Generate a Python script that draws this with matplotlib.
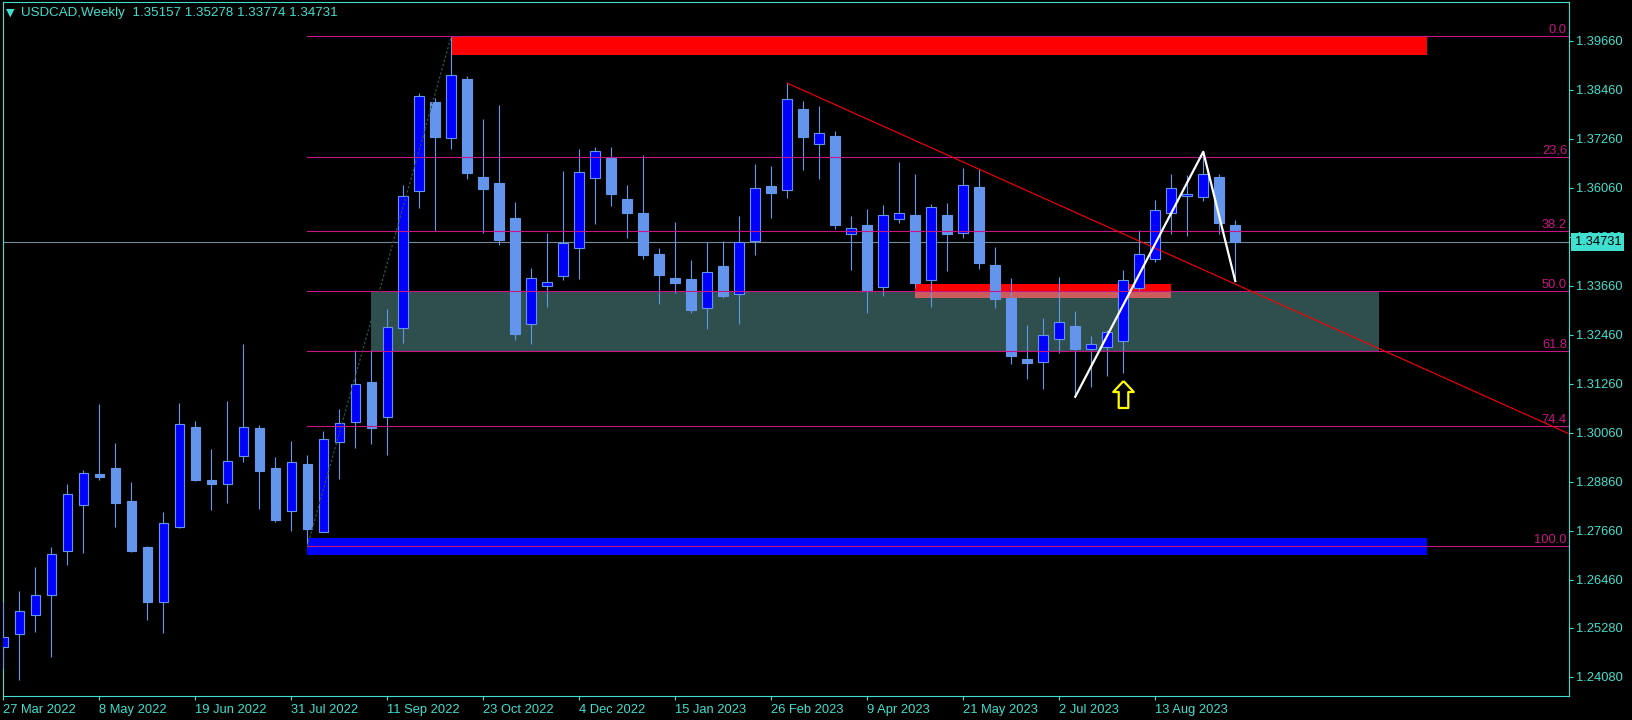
import numpy as np
import matplotlib
matplotlib.use('Agg')
import matplotlib.pyplot as plt
from matplotlib.patches import Rectangle
from matplotlib.path import Path
import matplotlib.transforms as mtransforms

plt.rcParams['font.family'] = ['Liberation Sans', 'DejaVu Sans']

# weekly candles, index 0 = week of 27 Mar 2022
opens = [1.2480, 1.2512, 1.2559, 1.2608, 1.2716, 1.2830, 1.2904, 1.2919, 1.2839, 1.2726,
         1.2592, 1.2776, 1.3020, 1.2890, 1.2880, 1.2948, 1.3017, 1.2919, 1.2814, 1.2929,
         1.2764, 1.2984, 1.3031, 1.3129, 1.3044, 1.3262, 1.3599, 1.3816, 1.3727, 1.3872,
         1.3632, 1.3618, 1.3532, 1.3272, 1.3366, 1.3391, 1.3458, 1.3629, 1.3679, 1.3578,
         1.3544, 1.3444, 1.3384, 1.3382, 1.3311, 1.3414, 1.3345, 1.3475, 1.3610, 1.3600,
         1.3799, 1.3712, 1.3733, 1.3492, 1.3515, 1.3362, 1.3529, 1.3539, 1.3379, 1.3539,
         1.3494, 1.3608, 1.3416, 1.3335, 1.3187, 1.3180, 1.3236, 1.3267, 1.3210, 1.3215,
         1.3230, 1.3360, 1.3431, 1.3543, 1.3585, 1.3583, 1.3632, 1.35157]
highs = [1.2592, 1.2618, 1.2677, 1.2726, 1.2880, 1.2915, 1.3076, 1.2981, 1.2885, 1.2729,
         1.2812, 1.3078, 1.3035, 1.2966, 1.3084, 1.3223, 1.3026, 1.2947, 1.2986, 1.2951,
         1.3010, 1.3064, 1.3209, 1.3209, 1.3308, 1.3613, 1.3837, 1.3826, 1.3977, 1.3880,
         1.3774, 1.3809, 1.3571, 1.3409, 1.3495, 1.3647, 1.3701, 1.3706, 1.3706, 1.3613,
         1.3686, 1.3458, 1.3522, 1.3429, 1.3472, 1.3476, 1.3537, 1.3664, 1.3659, 1.3862,
         1.3818, 1.3806, 1.3745, 1.3537, 1.3554, 1.3564, 1.3668, 1.3640, 1.3566, 1.3569,
         1.3654, 1.3652, 1.3461, 1.3384, 1.3270, 1.3287, 1.3387, 1.3304, 1.3243, 1.3258,
         1.3405, 1.3502, 1.3576, 1.3640, 1.3637, 1.3694, 1.3640, 1.35278]
lows = [1.2429, 1.2400, 1.2518, 1.2457, 1.2683, 1.2711, 1.2890, 1.2776, 1.2715, 1.2547,
        1.2516, 1.2773, 1.2888, 1.2817, 1.2835, 1.2934, 1.2820, 1.2788, 1.2766, 1.2728,
        1.2762, 1.2893, 1.2969, 1.2979, 1.2952, 1.3226, 1.3557, 1.3500, 1.3702, 1.3628,
        1.3494, 1.3466, 1.3234, 1.3224, 1.3315, 1.3381, 1.3383, 1.3518, 1.3562, 1.3484,
        1.3432, 1.3320, 1.3349, 1.3300, 1.3261, 1.3337, 1.3273, 1.3440, 1.3532, 1.3582,
        1.3649, 1.3627, 1.3506, 1.3405, 1.3300, 1.3342, 1.3520, 1.3360, 1.3315, 1.3403,
        1.3484, 1.3406, 1.3312, 1.3175, 1.3138, 1.3113, 1.3202, 1.3094, 1.3119, 1.3146,
        1.3151, 1.3353, 1.3425, 1.3493, 1.3488, 1.3573, 1.3492, 1.33774]
closes = [1.2506, 1.2569, 1.2608, 1.2708, 1.2855, 1.2907, 1.2898, 1.2835, 1.2717, 1.2592,
          1.2784, 1.3027, 1.2890, 1.2881, 1.2936, 1.3019, 1.2913, 1.2793, 1.2934, 1.2771,
          1.2990, 1.3029, 1.3125, 1.3018, 1.3264, 1.3586, 1.3830, 1.3731, 1.3881, 1.3643,
          1.3604, 1.3479, 1.3248, 1.3384, 1.3374, 1.3471, 1.3644, 1.3695, 1.3591, 1.3545,
          1.3442, 1.3393, 1.3373, 1.3307, 1.3399, 1.3342, 1.3472, 1.3605, 1.3594, 1.3823,
          1.3731, 1.3739, 1.3515, 1.3507, 1.3353, 1.3538, 1.3543, 1.3373, 1.3558, 1.3493,
          1.3612, 1.3422, 1.3334, 1.3195, 1.3177, 1.3245, 1.3276, 1.3211, 1.3223, 1.3252,
          1.3379, 1.3443, 1.3551, 1.3605, 1.3590, 1.3639, 1.3520, 1.34731]

xtick_idx = [0, 6, 12, 18, 24, 30, 36, 42, 48, 54, 60, 66, 72]
xtick_labels = ['27 Mar 2022', '8 May 2022', '19 Jun 2022', '31 Jul 2022', '11 Sep 2022',
                '23 Oct 2022', '4 Dec 2022', '15 Jan 2023', '26 Feb 2023', '9 Apr 2023',
                '21 May 2023', '2 Jul 2023', '13 Aug 2023']
ytick_vals = [1.39660, 1.38460, 1.37260, 1.36060, 1.34860, 1.33660, 1.32460, 1.31260,
              1.30060, 1.28860, 1.27660, 1.26460, 1.25280, 1.24080]

# fibonacci from swing low to swing high
fib_low = (19, 1.2728)
fib_high = (28, 1.3977)
fib_ratios = [0.0, 0.236, 0.382, 0.5, 0.618, 0.764, 1.0]
fib_labels = ['0.0', '23,6', '38.2', '50.0', '61.8', '74.4', '100.0']

# rectangles: (x0, x1, price_lo, price_hi)
supply_top = (28, 89, 1.3931, 1.3977)
demand_bottom = (19, 89, 1.27065, 1.2748)
zone_mid = (23, 86, 1.3205, 1.3352)
supply_mid = (57, 73, 1.3337, 1.3370)

trend_pts = [(49, 1.3862), (77, 1.3370)]
zigzag_x = [67, 75, 77]
zigzag_y = [1.3094, 1.3694, 1.33774]
arrow_pt = (70, 1.3101)
last_price = closes[-1]

BG = 'black'
FG = '#40E0D0'
BULL = '#0000FF'
BEAR = '#6495ED'
FIB = '#C71585'

fig = plt.figure(figsize=(16.33, 7.2), dpi=100, facecolor=BG)
ax = fig.add_axes([3 / 1633, 24 / 720, 1566 / 1633, 694 / 720], facecolor=BG)
xmin, xmax = -0.02, 97.86
ax.set_xlim(xmin, xmax)
ax.set_ylim(1.23612, 1.40608)

# zones
for (x0, x1, lo, hi), col in [(supply_top, '#FF0000'), (demand_bottom, BULL),
                              (zone_mid, '#2F4F4F'), (supply_mid, '#FF0000')]:
    ax.add_patch(Rectangle((x0, lo), x1 - x0, hi - lo, facecolor=col, edgecolor='none', zorder=1))
ov_lo = max(zone_mid[2], supply_mid[2])
ov_hi = min(zone_mid[3], supply_mid[3])
ov_x0 = max(zone_mid[0], supply_mid[0])
ov_x1 = min(zone_mid[1], supply_mid[1])
ax.add_patch(Rectangle((ov_x0, ov_lo), ov_x1 - ov_x0, ov_hi - ov_lo,
                       facecolor='#CD5C5C', edgecolor='none', zorder=1.1))

# current price line
ax.axhline(last_price, color='#778899', lw=0.8, zorder=1.5)

# candles
idx = np.arange(len(opens))
o = np.array(opens)
c = np.array(closes)
bull = c >= o
ax.vlines(idx, lows, highs, color=BEAR, lw=0.8, zorder=3)
ax.bar(idx[bull], (c - o)[bull], bottom=o[bull], width=0.6, color=BULL,
       edgecolor=BEAR, linewidth=0.8, zorder=3.1)
ax.bar(idx[~bull], (o - c)[~bull], bottom=c[~bull], width=0.6, color=BEAR,
       edgecolor=BEAR, linewidth=0.8, zorder=3.1)

# fibonacci levels
rng = fib_high[1] - fib_low[1]
lab_trans = mtransforms.blended_transform_factory(ax.transAxes, ax.transData)
for r, lab in zip(fib_ratios, fib_labels):
    lvl = fib_high[1] - r * rng
    ax.plot([fib_low[0], xmax], [lvl, lvl], color=FIB, lw=0.8, zorder=4)
    ax.text(1 - 2 / 1566, lvl, lab, transform=lab_trans, ha='right', va='bottom',
            color=FIB, fontsize=9.3, zorder=4)
ax.plot([fib_low[0], fib_high[0]], [fib_low[1], fib_high[1]], color='#2F4F4F',
        lw=0.9, ls=(0, (2, 1.5)), zorder=4)

# trend line (ray)
(tx0, ty0), (tx1, ty1) = trend_pts
slope = (ty1 - ty0) / (tx1 - tx0)
ax.plot([tx0, xmax], [ty0, ty0 + slope * (xmax - tx0)], color='#FF0000', lw=0.8, zorder=4)

# zigzag
ax.plot(zigzag_x, zigzag_y, color='white', lw=1.6, zorder=5)

# hollow up arrow
arrow_path = Path([(0, 13.5), (10.3, 2.5), (4.8, 2.5), (4.8, -13.5), (-4.8, -13.5),
                   (-4.8, 2.5), (-10.3, 2.5), (0, 13.5)])
ax.plot([arrow_pt[0]], [arrow_pt[1]], marker=arrow_path, markersize=19.4,
        markerfacecolor='none', markeredgecolor='#FFFF00', markeredgewidth=1.6, zorder=5)

# axes styling
for sp in ax.spines.values():
    sp.set_color(FG)
    sp.set_linewidth(0.8)
ax.yaxis.tick_right()
ax.set_yticks(ytick_vals)
ax.set_yticklabels([f'{v:.5f}' for v in ytick_vals])
ax.set_xticks(xtick_idx)
ax.set_xticklabels(xtick_labels)
for lab in ax.get_xticklabels():
    lab.set_horizontalalignment('left')
ax.tick_params(axis='both', colors=FG, labelcolor=FG, labelsize=9.3, length=3, width=0.8)
ax.tick_params(axis='y', pad=2)
ax.tick_params(axis='x', pad=3)

# last price tag
ax.annotate(f'{last_price:.5f}', xy=(1.0, last_price), xycoords=lab_trans,
            xytext=(4, 0), textcoords='offset points', ha='left', va='center',
            color='black', fontsize=9.3, annotation_clip=False, zorder=10,
            bbox=dict(boxstyle='square,pad=0.25', fc=FG, ec='none'))

# header
title = f'USDCAD,Weekly  {opens[-1]:.5f} {highs[-1]:.5f} {lows[-1]:.5f} {closes[-1]:.5f}'
fig.text(21 / 1633, 1 - 13 / 720, title, color=FG, fontsize=9.6, va='center', ha='left')
fig.text(10.5 / 1633, 1 - 12.5 / 720, '\u25BC', color=FG, fontsize=8, va='center',
         ha='center', family='DejaVu Sans')

fig.savefig('out.png', dpi=100, facecolor=BG)
